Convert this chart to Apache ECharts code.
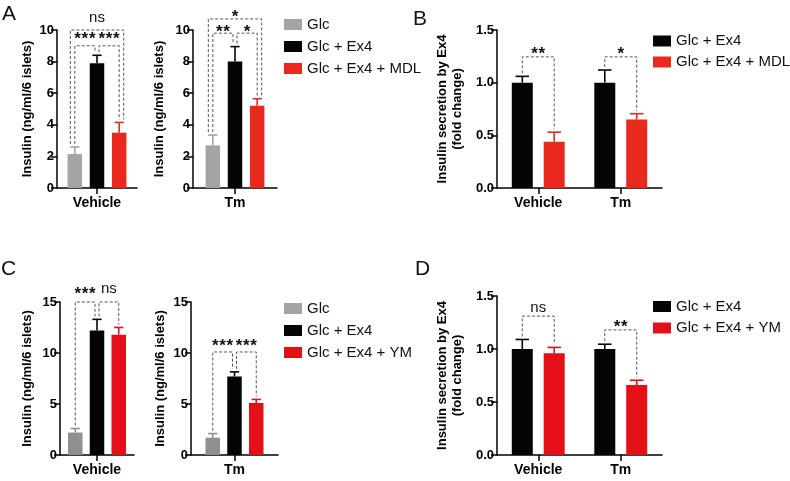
<!DOCTYPE html>
<html><head><meta charset="utf-8">
<script src="https://cdn.jsdelivr.net/npm/echarts@6/dist/echarts.min.js"></script>
<style>html,body{margin:0;padding:0;background:#fff}#c{width:790px;height:481px}</style>
</head><body><div id="c"></div>
<script>
// ---------------- data ----------------
const conditions = ['Vehicle', 'Tm'];

// Panel A (insulin, ng/ml/6 islets)
const groupsA = ['Glc', 'Glc + Ex4', 'Glc + Ex4 + MDL'];
const aVehicleMean = [2.15, 7.9, 3.5];
const aVehicleSem  = [0.45, 0.5, 0.65];
const aTmMean = [2.7, 8.0, 5.2];
const aTmSem  = [0.65, 0.95, 0.45];
// [fromBar, toBar, bracket level, label]
const aVehicleSig = [[0, 1, 9.0, '***'], [1, 2, 9.0, '***'], [0, 2, 10.0, 'ns']];
const aTmSig = [[0, 1, 9.8, '**'], [1, 2, 9.8, '*'], [0, 2, 10.7, '*']];
const ticksA = [0, 10, 2];

// Panel B (fold change)
const groupsB = ['Glc + Ex4', 'Glc + Ex4 + MDL'];
const bEx4Mean = [1.0, 1.0];
const bEx4Sem  = [0.06, 0.12];
const bMdlMean = [0.44, 0.65];
const bMdlSem  = [0.09, 0.055];
// [condition, bracket level, label]
const bSig = [[0, 1.245, '**'], [1, 1.245, '*']];
const ticksFold = [0, 1.5, 0.5];

// Panel C (insulin, ng/ml/6 islets)
const groupsC = ['Glc', 'Glc + Ex4', 'Glc + Ex4 + YM'];
const cVehicleMean = [2.2, 12.2, 11.8];
const cVehicleSem  = [0.4, 1.1, 0.7];
const cTmMean = [1.7, 7.7, 5.1];
const cTmSem  = [0.4, 0.45, 0.35];
const cVehicleSig = [[0, 1, 15, '***'], [1, 2, 15, 'ns']];
const cTmSig = [[0, 1, 10.1, '***'], [1, 2, 10.1, '***']];
const ticksC = [0, 15, 5];

// Panel D (fold change)
const groupsD = ['Glc + Ex4', 'Glc + Ex4 + YM'];
const dEx4Mean = [1.0, 1.0];
const dEx4Sem  = [0.09, 0.045];
const dYmMean = [0.96, 0.66];
const dYmSem  = [0.055, 0.045];
const dSig = [[0, 1.31, 'ns'], [1, 1.18, '**']];

// ---------------- styles / layout ----------------
const FONT = "'Liberation Sans', Arial, Helvetica, sans-serif";
const GRAY_A = '#a4a4a4', GRAY_C = '#8f8f8f', BLACK = '#050505', RED_A = '#e9291d', RED_C = '#e31018';
const INSULIN = 'Insulin (ng/ml/6 islets)';
const FOLD = 'Insulin secretion by Ex4\n(fold change)';
const STAR_STEP = 7.3;

function one(arr, i) { return [arr[i]]; }

const panels = [
  { grid: {left: 57, top: 30, width: 80, height: 158}, cats: [conditions[0]], ticks: ticksA, name: INSULIN, nameGap: 22,
    barWidth: 14.5, barGap: 0.53, lift: 11,
    series: groupsA.map((g, i) => ({name: g, color: [GRAY_A, BLACK, RED_A][i], means: one(aVehicleMean, i), sems: one(aVehicleSem, i)})),
    sig: aVehicleSig.map(s => ({cat: 0, from: s[0], to: s[1], level: s[2], label: s[3]})) },
  { grid: {left: 193, top: 30, width: 84, height: 158}, cats: [conditions[1]], ticks: ticksA, name: INSULIN, nameGap: 26,
    barWidth: 14.5, barGap: 0.53, lift: 5.5,
    series: groupsA.map((g, i) => ({name: g, color: [GRAY_A, BLACK, RED_A][i], means: one(aTmMean, i), sems: one(aTmSem, i)})),
    sig: aTmSig.map(s => ({cat: 0, from: s[0], to: s[1], level: s[2], label: s[3]})) },
  { grid: {left: 497, top: 30, width: 165, height: 158}, cats: conditions, ticks: ticksFold, name: FOLD, nameGap: 32, fixed: 1,
    barWidth: 21, barGap: 0.52, lift: 7,
    series: [{name: groupsB[0], color: BLACK, means: bEx4Mean, sems: bEx4Sem},
             {name: groupsB[1], color: RED_A, means: bMdlMean, sems: bMdlSem}],
    sig: bSig.map(s => ({cat: s[0], from: 0, to: 1, level: s[1], label: s[2]})) },
  { grid: {left: 60, top: 302, width: 74, height: 153}, cats: [conditions[0]], ticks: ticksC, name: INSULIN, nameGap: 25,
    barWidth: 14.5, barGap: 0.5, lift: 11.5,
    series: groupsC.map((g, i) => ({name: g, color: [GRAY_C, BLACK, RED_C][i], means: one(cVehicleMean, i), sems: one(cVehicleSem, i)})),
    sig: cVehicleSig.map(s => ({cat: 0, from: s[0], to: s[1], level: s[2], label: s[3]})) },
  { grid: {left: 191, top: 302, width: 87, height: 153}, cats: [conditions[1]], ticks: ticksC, name: INSULIN, nameGap: 23,
    barWidth: 14.5, barGap: 0.5, lift: 10,
    series: groupsC.map((g, i) => ({name: g, color: [GRAY_C, BLACK, RED_C][i], means: one(cTmMean, i), sems: one(cTmSem, i)})),
    sig: cTmSig.map(s => ({cat: 0, from: s[0], to: s[1], level: s[2], label: s[3]})) },
  { grid: {left: 497, top: 296, width: 165, height: 159}, cats: conditions, ticks: ticksFold, name: FOLD, nameGap: 32, fixed: 1,
    barWidth: 21, barGap: 0.52, lift: 6.5,
    series: [{name: groupsD[0], color: BLACK, means: dEx4Mean, sems: dEx4Sem},
             {name: groupsD[1], color: RED_C, means: dYmMean, sems: dYmSem}],
    sig: dSig.map(s => ({cat: s[0], from: 0, to: 1, level: s[1], label: s[2]})) }
];

const option = {
  animation: false,
  backgroundColor: '#fff',
  grid: [], xAxis: [], yAxis: [], series: [],
  legend: [
    {data: groupsA, left: 284, top: 17, itemGap: 7},
    {data: groupsB, left: 653, top: 33.5, itemGap: 6},
    {data: groupsC, left: 284, top: 301, itemGap: 7},
    {data: groupsD, left: 653, top: 299, itemGap: 6.5}
  ].map(l => Object.assign({
    orient: 'vertical', icon: 'rect', itemWidth: 18, itemHeight: 11, padding: 0,
    selectedMode: false,
    textStyle: {fontFamily: FONT, fontSize: 15, color: '#111', lineHeight: 15, padding: [0, 0, 0, 0]}
  }, l)),
  graphic: [
    {type: 'text', x: 2, y: 4, style: {text: 'A', font: '21px ' + FONT, fill: '#111'}},
    {type: 'text', x: 413, y: 9, style: {text: 'B', font: '21px ' + FONT, fill: '#111'}},
    {type: 'text', x: 1, y: 259, style: {text: 'C', font: '21px ' + FONT, fill: '#111'}},
    {type: 'text', x: 415, y: 259, style: {text: 'D', font: '21px ' + FONT, fill: '#111'}}
  ]
};

panels.forEach((p, k) => {
  option.grid.push(Object.assign({containLabel: false}, p.grid));
  const axisLine = {show: true, lineStyle: {color: '#000', width: 1.5}};
  const axisTick = {show: true, length: 6, lineStyle: {color: '#000', width: 1.5}};
  option.xAxis.push({
    type: 'category', gridIndex: k, data: p.cats,
    axisLine: axisLine, axisTick: Object.assign({alignWithLabel: true}, axisTick),
    axisLabel: {color: '#000', fontFamily: FONT, fontWeight: 'bold', fontSize: 14, margin: 8}
  });
  option.yAxis.push({
    type: 'value', gridIndex: k, min: p.ticks[0], max: p.ticks[1], interval: p.ticks[2],
    axisLine: axisLine, axisTick: axisTick, splitLine: {show: false},
    axisLabel: {color: '#000', fontFamily: FONT, fontWeight: 'bold', fontSize: 13, margin: 3,
      formatter: v => p.fixed ? v.toFixed(p.fixed) : String(v)},
    name: p.name, nameLocation: 'middle', nameRotate: 90, nameGap: p.nameGap,
    nameTextStyle: {color: '#000', fontFamily: FONT, fontWeight: 'bold', fontSize: 13, lineHeight: 15}
  });
  const n = p.series.length;
  const step = p.barWidth * (1 + p.barGap);
  const offset = i => (i - (n - 1) / 2) * step;
  const errTop = (i, c) => p.series[i].means[c] + p.series[i].sems[c];

  p.series.forEach((s, i) => {
    option.series.push({
      type: 'bar', name: s.name, xAxisIndex: k, yAxisIndex: k, data: s.means,
      barWidth: p.barWidth, barGap: (p.barGap * 100) + '%',
      itemStyle: {color: s.color}, z: 2, silent: true
    });
  });
  p.series.forEach((s, i) => {
    option.series.push({
      type: 'custom', xAxisIndex: k, yAxisIndex: k, z: 3, silent: true,
      data: s.means.map((m, c) => [c, m, m + s.sems[c]]),
      renderItem: (params, api) => {
        const b = api.coord([api.value(0), api.value(1)]);
        const t = api.coord([api.value(0), api.value(2)]);
        const x = b[0] + offset(i);
        const cap = p.barWidth * 0.32;
        const st = {stroke: s.color, lineWidth: 1.6};
        return {type: 'group', children: [
          {type: 'line', shape: {x1: x, y1: b[1], x2: x, y2: t[1]}, style: st},
          {type: 'line', shape: {x1: x - cap, y1: t[1], x2: x + cap, y2: t[1]}, style: st}
        ]};
      }
    });
  });
  option.series.push({
    type: 'custom', xAxisIndex: k, yAxisIndex: k, z: 1, silent: true, clip: false,
    data: p.sig.map((s, idx) => [s.cat, s.level, idx]),
    renderItem: (params, api) => {
      const s = p.sig[params.dataIndex];
      const lv = api.coord([s.cat, s.level]);
      const tl = api.coord([s.cat, errTop(s.from, s.cat)]);
      const tr = api.coord([s.cat, errTop(s.to, s.cat)]);
      let shL = 0, shR = 0;
      if (n === 3) {
        if (s.to - s.from === 2) { shL = -4.5; shR = 4.5; }
        else { if (s.from === 1) shL = 2; if (s.to === 1) shR = -2; }
      }
      const xl = lv[0] + offset(s.from) + shL;
      const xr = lv[0] + offset(s.to) + shR;
      const y = lv[1];
      const cx = (xl + xr) / 2;
      const isStar = s.label.indexOf('*') >= 0;
      const children = [
        {type: 'polyline', shape: {points: [[xl, tl[1] - 3], [xl, y], [xr, y], [xr, tr[1] - 3]]},
         style: {stroke: '#555', lineWidth: 1, lineDash: [3, 2], fill: null}}
      ];
      if (isStar) {
        const chars = s.label.split('');
        chars.forEach((ch, j) => {
          children.push({type: 'text', x: cx + (j - (chars.length - 1) / 2) * STAR_STEP, y: y - p.lift + 4.2,
            style: {text: ch, font: 'bold 17px ' + FONT, fill: '#111', align: 'center', verticalAlign: 'middle'}});
        });
      } else {
        children.push({type: 'text', x: cx, y: y - p.lift - 1.3,
          style: {text: s.label, font: '15px ' + FONT, fill: '#111', align: 'center', verticalAlign: 'middle'}});
      }
      return {type: 'group', children: children};
    }
  });
});

const chart = echarts.init(document.getElementById('c'), null, {renderer: 'canvas'});
chart.setOption(option);
</script>
</body></html>
